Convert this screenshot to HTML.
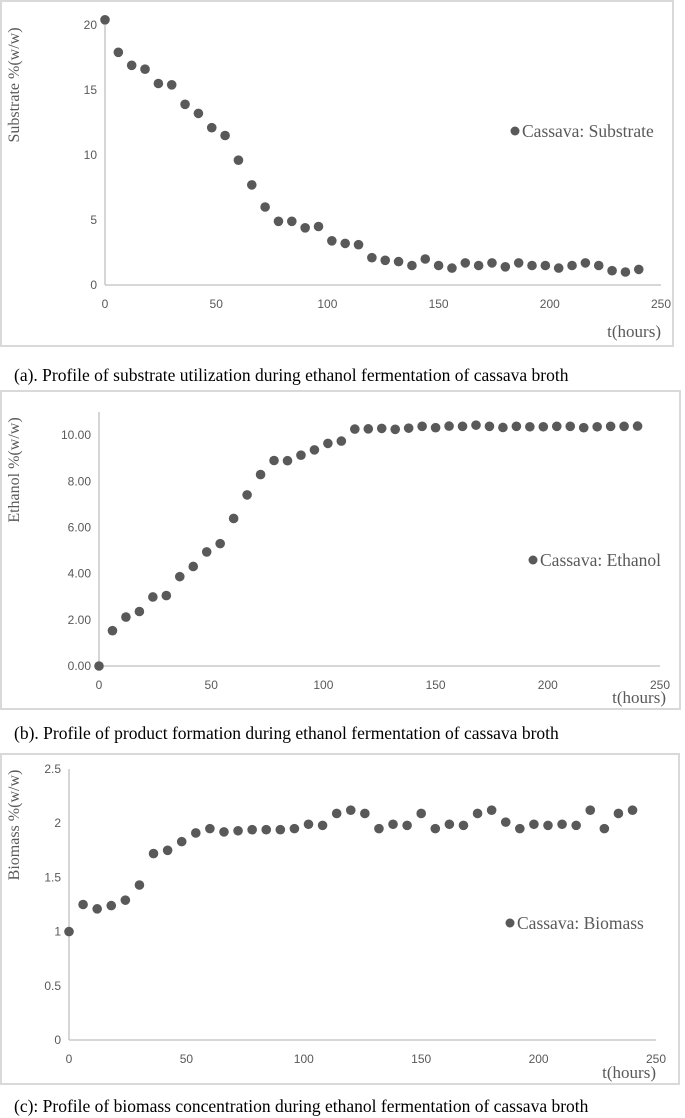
<!DOCTYPE html>
<html><head><meta charset="utf-8">
<style>
html,body{margin:0;padding:0;background:#fff;}
body{width:685px;height:1118px;position:relative;overflow:hidden;font-family:"Liberation Serif",serif;}
.box{position:absolute;border:2px solid #d9d9d9;box-sizing:border-box;background:#fff;}
.cap{position:absolute;left:14px;font-size:17.5px;color:#000;white-space:nowrap;font-family:"Liberation Serif",serif;}
svg{position:absolute;left:0;top:0;}
</style></head><body>
<div class="box" style="left:0;top:0;width:674px;height:347px;"></div>
<div class="box" style="left:0;top:390px;width:681px;height:320px;"></div>
<div class="box" style="left:0;top:753px;width:680px;height:332px;"></div>
<div class="cap" style="top:365px;">(a). Profile of substrate utilization during ethanol fermentation of cassava broth</div>
<div class="cap" style="top:723px;">(b). Profile of product formation during ethanol fermentation of cassava broth</div>
<div class="cap" style="top:1096px;">(c): Profile of biomass concentration during ethanol fermentation of cassava broth</div>
<svg id="svg" width="685" height="1118" xmlns="http://www.w3.org/2000/svg"></svg>
<script>
var times = [];
for (var i = 0; i <= 240; i += 6) times.push(i);
var xTicks = [0, 50, 100, 150, 200, 250];

var substrate = [20.4,17.9,16.9,16.6,15.5,15.4,13.9,13.2,12.1,11.5,9.6,7.7,6.0,4.9,4.9,4.4,4.5,3.4,3.2,3.1,2.1,1.9,1.8,1.5,2.0,1.5,1.3,1.7,1.5,1.7,1.4,1.7,1.5,1.5,1.3,1.5,1.7,1.5,1.1,1.0,1.2];
var substrateTicks = [0, 5, 10, 15, 20];
var substrateTickLabels = ["0", "5", "10", "15", "20"];

var ethanol = [0,1.53,2.12,2.36,2.99,3.05,3.87,4.31,4.94,5.30,6.39,7.41,8.29,8.90,8.89,9.13,9.36,9.64,9.74,10.26,10.27,10.29,10.25,10.30,10.38,10.32,10.39,10.38,10.43,10.38,10.33,10.38,10.36,10.36,10.38,10.38,10.32,10.36,10.38,10.38,10.39];
var ethanolTicks = [0, 2, 4, 6, 8, 10];
var ethanolTickLabels = ["0.00", "2.00", "4.00", "6.00", "8.00", "10.00"];

var biomass = [1.00,1.25,1.21,1.24,1.29,1.43,1.72,1.75,1.83,1.91,1.95,1.92,1.93,1.94,1.94,1.94,1.95,1.99,1.98,2.09,2.12,2.09,1.95,1.99,1.98,2.09,1.95,1.99,1.98,2.09,2.12,2.01,1.95,1.99,1.98,1.99,1.98,2.12,1.95,2.09,2.12];
var biomassTicks = [0, 0.5, 1, 1.5, 2, 2.5];
var biomassTickLabels = ["0", "0.5", "1", "1.5", "2", "2.5"];

var NS = "http://www.w3.org/2000/svg";
var svg = document.getElementById("svg");
function mk(tag, attrs, parent) {
  var e = document.createElementNS(NS, tag);
  for (var k in attrs) e.setAttribute(k, attrs[k]);
  (parent || svg).appendChild(e);
  return e;
}

function chart(id, cfg, values, yTicks, yLabels) {
  var g = mk("g", {});
  
  
  function sx(v) { return cfg.x0 + (v - 0) / 250 * (cfg.x1 - cfg.x0); }
  function sy(v) { return cfg.y0 - v / cfg.ymax * (cfg.y0 - cfg.yTop); }
  var ya = mk("line", {x1: cfg.x0, y1: cfg.yTop, x2: cfg.x0, y2: cfg.y0, stroke: "#bfbfbf", "stroke-width": 1.3}, g);
  
  
  var xa = mk("line", {x1: cfg.x0, y1: cfg.y0, x2: cfg.x1, y2: cfg.y0, stroke: "#bfbfbf", "stroke-width": 1.3}, g);
  
  
  for (var i = 0; i < yTicks.length; i++) {
    var t = mk("text", {x: cfg.x0 - 8, y: sy(yTicks[i]) + 4, "text-anchor": "end", "font-size": 12, fill: "#595959", "font-family": "Liberation Sans Narrow, Liberation Sans, sans-serif"}, g);
    t.textContent = yLabels[i];
    
    
  }
  for (var j = 0; j < xTicks.length; j++) {
    var t2 = mk("text", {x: sx(xTicks[j]), y: cfg.y0 + 23, "text-anchor": "middle", "font-size": 12, fill: "#595959", "font-family": "Liberation Sans Narrow, Liberation Sans, sans-serif"}, g);
    t2.textContent = xTicks[j];
    
    
  }
  var yt = mk("text", {x: 0, y: 0, "text-anchor": "middle", "font-size": 16, fill: "#595959", transform: "translate(" + cfg.ytX + "," + cfg.ytY + ") rotate(-90)"}, g);
  yt.textContent = cfg.ytitle;
  
  
  var xt = mk("text", {x: cfg.xtX, y: cfg.xtY, "text-anchor": "end", "font-size": 17, fill: "#595959"}, g);
  xt.textContent = "t(hours)";
  
  
  for (var k = 0; k < values.length; k++) {
    var c = mk("circle", {cx: sx(times[k]), cy: sy(values[k]), r: 4.8, fill: "#595959"}, g);
    
    
  }
  var ld = mk("circle", {cx: cfg.lgX, cy: cfg.lgY, r: 4.5, fill: "#595959"}, g);
  
  
  var lt = mk("text", {x: cfg.lgX + 7, y: cfg.lgY + 6, "font-size": 17.5, fill: "#595959"}, g);
  lt.textContent = cfg.legend;
  
  
}

chart("substrate", {x0:105, x1:661, y0:285, yTop:25, ymax:20, ytitle:"Substrate %(w/w)", ytX:19, ytY:85, xtX:661, xtY:337, lgX:515, lgY:131, legend:"Cassava: Substrate"}, substrate, substrateTicks, substrateTickLabels);
chart("ethanol", {x0:99, x1:660, y0:666, yTop:412, ymax:11, ytitle:"Ethanol %(w/w)", ytX:19, ytY:470, xtX:666, xtY:703, lgX:533, lgY:560, legend:"Cassava: Ethanol"}, ethanol, ethanolTicks, ethanolTickLabels);
chart("biomass", {x0:69, x1:656, y0:1040, yTop:769, ymax:2.5, ytitle:"Biomass %(w/w)", ytX:19, ytY:825, xtX:656, xtY:1078, lgX:510, lgY:923, legend:"Cassava: Biomass"}, biomass, biomassTicks, biomassTickLabels);
</script>
</body></html>
